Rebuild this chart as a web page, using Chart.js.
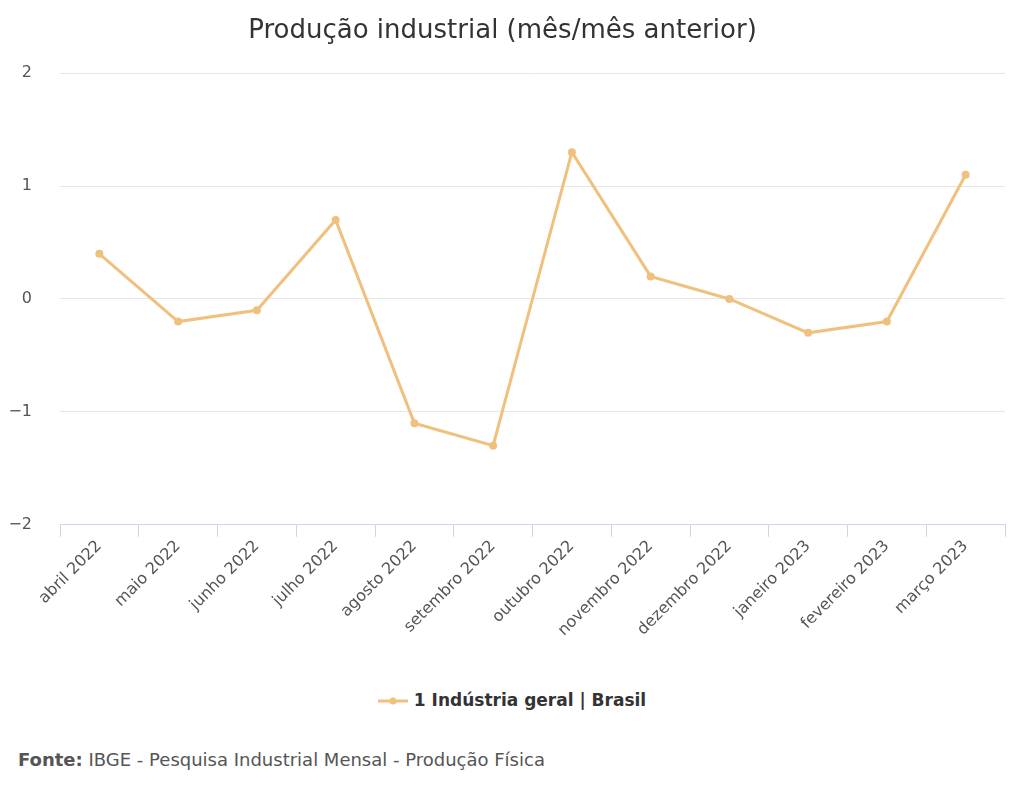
<!DOCTYPE html>
<html><head><meta charset="utf-8">
<script src="https://cdn.jsdelivr.net/npm/chart.js@4/dist/chart.umd.min.js"></script>
<style>
body{margin:0;background:#fff;font-family:"DejaVu Sans",sans-serif;}
#wrap{position:relative;width:1024px;height:798px;}
#c{position:absolute;left:0;top:0;}
#legend{position:absolute;top:690px;left:0;width:1024px;text-align:center;font-size:17px;font-weight:bold;color:#333;}
#foot{position:absolute;left:18px;top:749px;font-size:18px;color:#555;}
</style></head><body>
<div id="wrap">
<div style="position:absolute;left:0;top:0;width:1024px;height:640px"><canvas id="c"></canvas></div>
<div id="legend"><svg width="30" height="12" style="vertical-align:middle;margin-right:6px"><line x1="0" y1="6" x2="30" y2="6" stroke="#F0C07E" stroke-width="3"/><circle cx="15" cy="6" r="3.5" fill="#F0C07E"/></svg>1 Indústria geral | Brasil</div>
<div id="foot"><b>Fonte:</b> IBGE - Pesquisa Industrial Mensal - Produção Física</div>
</div>
<script>
const categories=["abril 2022","maio 2022","junho 2022","julho 2022","agosto 2022","setembro 2022","outubro 2022","novembro 2022","dezembro 2022","janeiro 2023","fevereiro 2023","março 2023"];
const values=[0.4,-0.2,-0.1,0.7,-1.1,-1.3,1.3,0.2,0.0,-0.3,-0.2,1.1];
const yTicks=[-2,-1,0,1,2];
new Chart(document.getElementById('c'),{
 type:'line',
 data:{labels:categories,datasets:[{label:'1 Indústria geral | Brasil',data:values,borderColor:'#F0C07E',backgroundColor:'#F0C07E',borderWidth:3,pointRadius:2.5,tension:0}]},
 options:{responsive:true,maintainAspectRatio:false,animation:false,
  layout:{padding:{top:16,right:19,left:0,bottom:0}},
  plugins:{legend:{display:false},tooltip:{enabled:false},
   title:{display:true,text:'Produção industrial (mês/mês anterior)',color:'#333',font:{family:'DejaVu Sans',size:26,weight:'normal'},padding:{top:0,bottom:26}}},
  scales:{
   x:{offset:true,grid:{offset:true,drawOnChartArea:false,color:'#ccd6eb',tickLength:12},border:{color:'#ccd6eb',width:1},
      ticks:{minRotation:45,maxRotation:45,color:'#555',font:{family:'DejaVu Sans',size:16},padding:0}},
   y:{min:-2,max:2,afterBuildTicks:a=>{a.ticks=yTicks.map(v=>({value:v}));},afterFit:a=>{a.width=60;},
      grid:{color:'#e6e6e6',drawTicks:false},border:{display:false},
      ticks:{color:'#555',padding:28,font:{family:'DejaVu Sans',size:16},callback:v=>String(v).replace('-','−')}}
  }}
});
</script>
</body></html>
